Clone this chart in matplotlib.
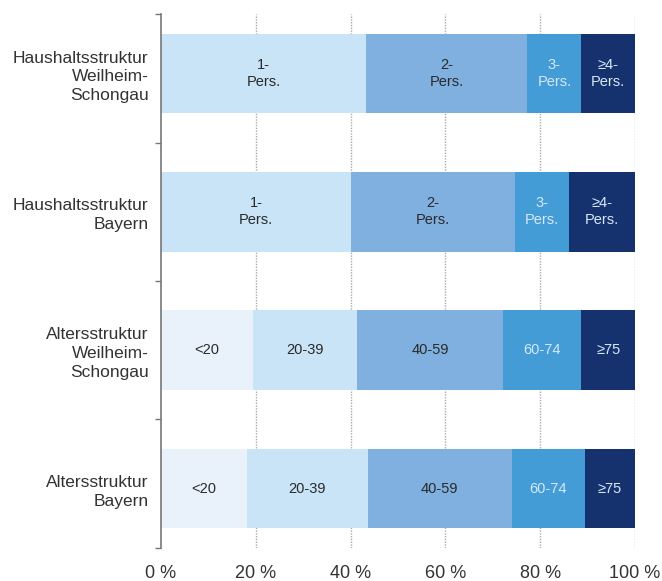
import numpy as np
import matplotlib.pyplot as plt
from matplotlib.ticker import FixedLocator

plt.rcParams['font.family'] = ['Liberation Sans Narrow', 'Liberation Sans', 'DejaVu Sans']

# Rows (top to bottom)
rows = ["Haushaltsstruktur\nWeilheim-\nSchongau",
        "Haushaltsstruktur\nBayern",
        "Altersstruktur\nWeilheim-\nSchongau",
        "Altersstruktur\nBayern"]

# Segment shares in percent for each row
haushalt_labels = ["1-\nPers.", "2-\nPers.", "3-\nPers.", "≥4-\nPers."]
haushalt_ws = [43.3, 34.0, 11.4, 11.3]
haushalt_by = [40.1, 34.6, 11.4, 13.9]

alter_labels = ["<20", "20-39", "40-59", "60-74", "≥75"]
alter_ws = [19.4, 22.0, 30.8, 16.5, 11.3]
alter_by = [18.2, 25.4, 30.4, 15.4, 10.6]

haushalt_colors = ["#c9e4f6", "#80b0e0", "#439cd6", "#15326f"]
alter_colors = ["#e9f2fb", "#c9e4f6", "#80b0e0", "#439cd6", "#15326f"]
text_colors = {"#e9f2fb": "#2a2a2a", "#c9e4f6": "#2a2a2a", "#80b0e0": "#2a2a2a",
               "#439cd6": "#d6e8f6", "#15326f": "#d6e8f6"}

data = [(haushalt_ws, haushalt_labels, haushalt_colors),
        (haushalt_by, haushalt_labels, haushalt_colors),
        (alter_ws, alter_labels, alter_colors),
        (alter_by, alter_labels, alter_colors)]

fig = plt.figure(figsize=(6.62, 5.81), dpi=100)
ax = fig.add_axes([161 / 662, 1 - 548 / 581, 474 / 662, 534 / 581])

for i, (vals, labels, colors) in enumerate(data):
    left = 0
    for v, lab, c in zip(vals, labels, colors):
        ax.barh(i, v, left=left, height=0.578, color=c, zorder=2)
        ax.text(left + v / 2, i, lab, ha='center', va='center', fontsize=10.5,
                color=text_colors[c], linespacing=1.3, zorder=3)
        left += v

ax.set_xlim(0, 100)
ax.set_ylim(3.43, -0.43)
ax.set_xticks([0, 20, 40, 60, 80, 100])
ax.set_xticklabels(["0 %", "20 %", "40 %", "60 %", "80 %", "100 %"], fontsize=13)
ax.tick_params(axis='x', length=0, pad=12, colors='#333333')
ax.set_yticks(range(4))
ax.set_yticklabels(rows, fontsize=12.5, linespacing=1.3, color='#333333')
ax.tick_params(axis='y', which='major', length=0, pad=9)
ax.yaxis.set_minor_locator(FixedLocator([-0.43, 0.5, 1.5, 2.5, 3.43]))
ax.tick_params(axis='y', which='minor', length=4, color='#777777', width=1)

for x in [20, 40, 60, 80, 100]:
    ax.axvline(x, color='#aaaaaa', linestyle=(0, (1, 1)), linewidth=1, zorder=1)

for s in ['top', 'right', 'bottom']:
    ax.spines[s].set_visible(False)
ax.spines['left'].set_color('#777777')
ax.spines['left'].set_linewidth(1.2)

fig.savefig('out.png', dpi=100)
